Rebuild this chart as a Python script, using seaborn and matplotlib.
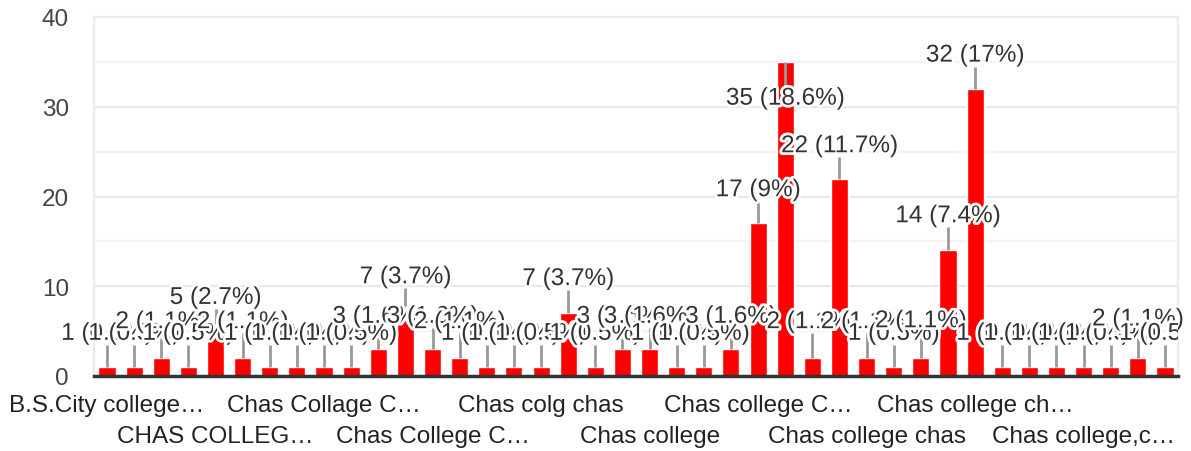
import numpy as np
import pandas as pd
import matplotlib
matplotlib.use("Agg")
from matplotlib import pyplot as plt
import matplotlib.patheffects as pe
import seaborn as sns

# responses per answer (sorted like the form summary)
counts = [1, 1, 2, 1, 5, 2, 1, 1, 1, 1, 3, 7, 3, 2, 1, 1, 1, 7, 1, 3,
          3, 1, 1, 3, 17, 35, 2, 22, 2, 1, 2, 14, 32, 1, 1, 1, 1, 1, 2, 1]
# only every 4th answer gets a visible tick label
tick_labels = ["B.S.City college…", "CHAS COLLEG…", "Chas Collage C…",
               "Chas College C…", "Chas colg chas", "Chas college",
               "Chas college C…", "Chas college chas", "Chas college ch…",
               "Chas college,c…"]

# height (data units) where each value label was placed to dodge its neighbours
label_y = [4.7, 4.7, 6.0, 4.7, 8.7, 6.0, 4.7, 4.7, 4.7, 4.7,
           6.6, 11.0, 6.6, 6.0, 4.7, 4.7, 4.7, 10.8, 4.7, 6.6,
           6.6, 4.7, 4.7, 6.6, 20.7, 30.9, 6.0, 25.6, 6.0, 4.7,
           6.1, 17.8, 35.7, 4.7, 4.7, 4.7, 4.7, 4.7, 6.3, 4.7]

total = sum(counts)
df = pd.DataFrame({"pos": np.arange(len(counts)), "count": counts})

sns.set_style("white")
plt.rcParams["font.family"] = ["Liberation Sans", "DejaVu Sans"]
fs = 17.5

fig = plt.figure(figsize=(11.91, 4.52), dpi=100)
ax = fig.add_axes([94 / 1191, 1 - 377 / 452, (1178 - 94) / 1191, (377 - 18) / 452])

sns.barplot(data=df, x="pos", y="count", color="#ff0000", saturation=1,
            width=0.63, ax=ax, zorder=2)

ax.set_xlim(-0.48, len(counts) - 0.52)
ax.set_ylim(0, 40)
ax.set_yticks([0, 10, 20, 30, 40])
ax.set_yticks([5, 15, 25, 35], minor=True)
ax.grid(which="major", axis="y", color="#e8e8e8", lw=1.6, zorder=0)
ax.grid(which="minor", axis="y", color="#f3f3f3", lw=1.6, zorder=0)
ax.set_axisbelow(True)
ax.tick_params(axis="y", which="both", length=0, pad=18, labelsize=fs, labelcolor="#444444")
ax.set_xlabel("")
ax.set_ylabel("")

# two rows of category names
ax.set_xticks(np.arange(0, len(counts), 8))
ax.set_xticklabels(tick_labels[0::2])
ax.set_xticks(np.arange(4, len(counts), 8), minor=True)
ax.set_xticklabels(tick_labels[1::2], minor=True)
ax.tick_params(axis="x", which="major", length=0, pad=13, labelsize=fs, labelcolor="#222222")
ax.tick_params(axis="x", which="minor", length=0, pad=35, labelsize=fs, labelcolor="#222222")

for side in ["left", "right", "top"]:
    ax.spines[side].set_color("#ebebeb")
    ax.spines[side].set_linewidth(1.6)
ax.spines["bottom"].set_color("#333333")
ax.spines["bottom"].set_linewidth(2.5)
ax.spines["bottom"].set_zorder(5)

halo = [pe.withStroke(linewidth=4, foreground="white")]
for i, c in enumerate(counts):
    pct = f"{c / total * 100:.1f}".rstrip("0").rstrip(".")
    ly = label_y[i]
    end = ly - 1.25 if ly > c else ly + 1.3
    ax.plot([i, i], [c, end], color="#999999", lw=2, zorder=3, solid_capstyle="butt")
    # the last label runs past the right border and gets cut there
    ax.text(i, ly, f"{c} ({pct}%)", ha="center", va="center", fontsize=fs,
            color="#333333", path_effects=halo, zorder=4,
            clip_on=(i == len(counts) - 1))

fig.savefig("out.png", dpi=100)
